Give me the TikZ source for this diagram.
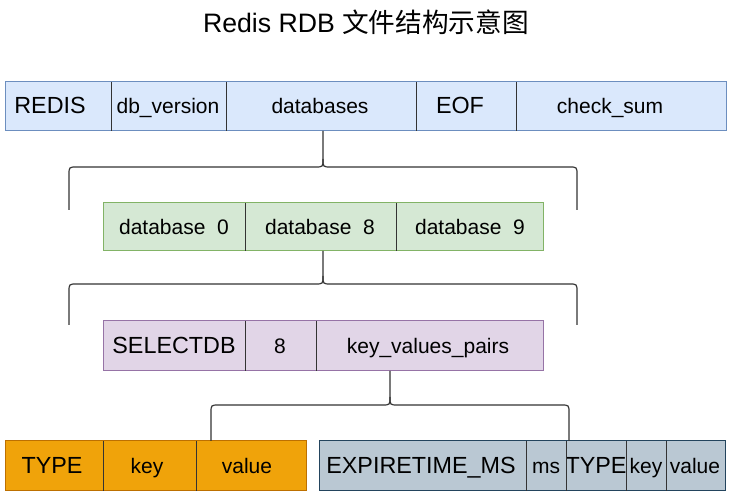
\documentclass[tikz,border=0pt]{standalone}
\usepackage{fontspec}
\setmainfont{Liberation Sans}
\newfontfamily\cjk{Noto Sans CJK SC}
\definecolor{blueF}{HTML}{DAE8FC}\definecolor{blueD}{HTML}{6C8EBF}
\definecolor{greenF}{HTML}{D5E8D4}\definecolor{greenD}{HTML}{82B366}
\definecolor{purF}{HTML}{E1D5E7}\definecolor{purD}{HTML}{9673A6}
\definecolor{orF}{HTML}{F0A30A}\definecolor{orD}{HTML}{BD7000}
\definecolor{grF}{HTML}{BAC8D3}\definecolor{grD}{HTML}{23445D}
\definecolor{divc}{HTML}{333333}
\definecolor{bracec}{HTML}{333333}
\tikzset{
  cellbase/.style={rectangle, line width=0.75pt, inner sep=0pt, outer sep=0pt},
  bluecell/.style={cellbase, draw=blueD, fill=blueF},
  greencell/.style={cellbase, draw=greenD, fill=greenF},
  purcell/.style={cellbase, draw=purD, fill=purF},
  orcell/.style={cellbase, draw=orD, fill=orF},
  grcell/.style={cellbase, draw=grD, fill=grF},
  capt/.style={font=\fontsize{17.5}{20}\selectfont, inner sep=0pt, text height=0.716em, text depth=0pt, anchor=center, yshift=-2pt},
  lowt/.style={font=\fontsize{15.75}{18}\selectfont, inner sep=0pt, text height=0.716em, text depth=0pt, anchor=center, yshift=-2pt},
  divline/.style={draw=divc, line width=0.75pt},
  bracel/.style={draw=bracec, line width=0.9pt},
}
% name, x1, x2, y1, y2, cell style, text x, text style, text
\newcommand\mkcell[9]{%
  \node[#6, minimum width={(#3-#2)*0.75pt}, minimum height={(#5-#4)*0.75pt}] (#1) at ({(#2+#3)/2},{(#4+#5)/2}) {};
  \node[#8] (#1-t) at (#7,{(#4+#5)/2}) {#9};
}
\begin{document}
\begin{tikzpicture}[x=0.75pt,y=-0.75pt]
\useasboundingbox (0,0) rectangle (736,498);
\node[font=\fontsize{20}{24}\selectfont, inner sep=0pt] (title) at (366,22) {Redis RDB {\cjk 文件结构示意图}};

% top row
\mkcell{redis}{5}{111}{82}{131}{bluecell}{50}{capt}{REDIS}
\mkcell{dbver}{111}{226}{82}{131}{bluecell}{168}{lowt}{db\_version}
\mkcell{dbs}{226}{416}{82}{131}{bluecell}{320}{lowt}{databases}
\mkcell{eof}{416}{516}{82}{131}{bluecell}{460}{capt}{EOF}
\mkcell{chk}{516}{726}{82}{131}{bluecell}{610}{lowt}{check\_sum}
\draw[bluecell, fill=none] (redis.north west) rectangle (chk.south east);
\foreach \n in {redis,dbver,dbs,eof}{\draw[divline] (\n.north east) -- (\n.south east);}

% green row
\mkcell{db0}{103}{245}{203}{251}{greencell}{174}{lowt}{database\ \ 0}
\mkcell{db8}{245}{396}{203}{251}{greencell}{320}{lowt}{database\ \ 8}
\mkcell{db9}{396}{543}{203}{251}{greencell}{470}{lowt}{database\ \ 9}
\draw[greencell, fill=none] (db0.north west) rectangle (db9.south east);
\foreach \n in {db0,db8}{\draw[divline] (\n.north east) -- (\n.south east);}

% purple row
\mkcell{sel}{103}{245}{321}{371}{purcell}{174}{capt}{SELECTDB}
\mkcell{eight}{245}{316}{321}{371}{purcell}{280}{lowt}{8}
\mkcell{kvp}{316}{543}{321}{371}{purcell}{428}{lowt}{key\_values\_pairs}
\draw[purcell, fill=none] (sel.north west) rectangle (kvp.south east);
\foreach \n in {sel,eight}{\draw[divline] (\n.north east) -- (\n.south east);}

% orange row
\mkcell{otype}{5}{103}{441}{491}{orcell}{52}{capt}{TYPE}
\mkcell{okey}{103}{196}{441}{491}{orcell}{147}{lowt}{key}
\mkcell{oval}{196}{306}{441}{491}{orcell}{247}{lowt}{value}
\draw[orcell, fill=none] (otype.north west) rectangle (oval.south east);
\foreach \n in {otype,okey}{\draw[divline] (\n.north east) -- (\n.south east);}

% grey row
\mkcell{gexp}{319}{526}{441}{491}{grcell}{421}{capt}{EXPIRETIME\_MS}
\mkcell{gms}{526}{566}{441}{491}{grcell}{546}{lowt}{ms}
\mkcell{gtype}{566}{626}{441}{491}{grcell}{596}{capt}{TYPE}
\mkcell{gkey}{626}{666}{441}{491}{grcell}{646}{lowt}{key}
\mkcell{gval}{666}{725}{441}{491}{grcell}{695}{lowt}{value}
\draw[grcell, fill=none] (gexp.north west) rectangle (gval.south east);
\foreach \n in {gexp,gms,gtype,gkey}{\draw[divline] (\n.north east) -- (\n.south east);}

% braces
\coordinate (b1top) at (323,131);
\coordinate (b1l) at (69,210);
\coordinate (b1r) at (577,210);
\draw[bracel] (b1l) -- (69,175) .. controls (69,167) .. (77,167) -- (315,167) .. controls (323,167) .. (323,159) -- (b1top);
\draw[bracel] (323,159) .. controls (323,167) .. (331,167) -- (569,167) .. controls (577,167) .. (577,175) -- (b1r);

\coordinate (b2top) at (323,251);
\coordinate (b2l) at (69,325);
\coordinate (b2r) at (577,325);
\draw[bracel] (b2l) -- (69,292) .. controls (69,284) .. (77,284) -- (315,284) .. controls (323,284) .. (323,276) -- (b2top);
\draw[bracel] (323,276) .. controls (323,284) .. (331,284) -- (569,284) .. controls (577,284) .. (577,292) -- (b2r);

\coordinate (b3top) at (390,371);
\coordinate (b3l) at (211,441);
\coordinate (b3r) at (569,441);
\draw[bracel] (b3l) -- (211,413) .. controls (211,405) .. (219,405) -- (382,405) .. controls (390,405) .. (390,397) -- (b3top);
\draw[bracel] (390,397) .. controls (390,405) .. (398,405) -- (561,405) .. controls (569,405) .. (569,413) -- (b3r);
\end{tikzpicture}
\end{document}
